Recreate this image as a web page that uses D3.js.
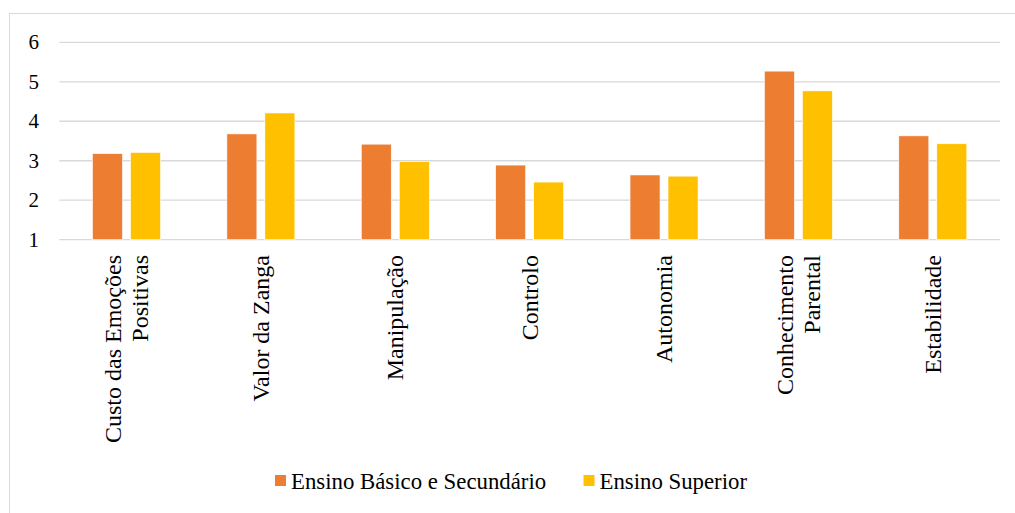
<!DOCTYPE html>
<html>
<head>
<meta charset="utf-8">
<script src="https://cdn.jsdelivr.net/npm/d3@7"></script>
<style>
  body { margin: 0; background: #fff; }
  svg { display: block; }
  text { font-family: "Liberation Serif", "Times New Roman", "DejaVu Serif", serif; }
</style>
</head>
<body>
<svg id="chart" width="1015" height="513"></svg>
<script>
const categories = ["Custo das Emoções Positivas", "Valor da Zanga", "Manipulação", "Controlo", "Autonomia", "Conhecimento Parental", "Estabilidade"];
const seriesNames = ["Ensino Básico e Secundário", "Ensino Superior"];
const basicoValues = [3.18, 3.68, 3.42, 2.89, 2.64, 5.27, 3.63];
const superiorValues = [3.21, 4.21, 2.98, 2.46, 2.61, 4.77, 3.43];
const yTicks = [1, 2, 3, 4, 5, 6];
const colors = ["#ED7D31", "#FFC000"];

const FONT = "'Liberation Serif', 'Times New Roman', serif";
const svg = d3.select("#chart").attr("font-family", FONT);
const W = 1015, H = 513;

// chart area border
svg.append("rect")
  .attr("x", 9.5).attr("y", 13.5)
  .attr("width", W + 10).attr("height", H + 10)
  .attr("fill", "#fff").attr("stroke", "#d9d9d9").attr("stroke-width", 1);

const plot = { left: 59.3, right: 1000, top: 42.3, bottom: 239.7 };

const x = d3.scaleBand().domain(categories).range([plot.left, plot.right]).paddingInner(0).paddingOuter(0);
const y = d3.scaleLinear().domain([1, 6]).range([plot.bottom, plot.top]);

// gridlines
svg.append("g").selectAll("line").data(yTicks).join("line")
  .attr("x1", plot.left).attr("x2", plot.right)
  .attr("y1", d => y(d)).attr("y2", d => y(d))
  .attr("stroke", "#d9d9d9").attr("stroke-width", 1.3);

// y tick labels
svg.append("g").selectAll("text").data(yTicks).join("text")
  .attr("x", 39).attr("y", d => y(d)).attr("dy", "0.34em")
  .attr("text-anchor", "end").attr("font-size", 21).attr("fill", "#000")
  .attr("font-family", FONT)
  .text(d => d);

// bars
const barW = 30, gap = 8;
const data = categories.map((c, i) => ({ c, vals: [basicoValues[i], superiorValues[i]] }));
const groups = svg.append("g").selectAll("g").data(data).join("g");
groups.selectAll("rect").data(d => d.vals.map((v, k) => ({ c: d.c, v, k }))).join("rect")
  .attr("x", d => x(d.c) + x.bandwidth() / 2 + (d.k === 0 ? -(gap / 2 + barW) : gap / 2))
  .attr("width", barW)
  .attr("y", d => y(d.v))
  .attr("height", d => y(1) - y(d.v))
  .attr("fill", d => colors[d.k])
  .attr("stroke", "#fff").attr("stroke-width", 0.6);

// category labels (rotated)
function splitLabel(s) {
  if (s.length <= 15) return [s];
  const idx = s.lastIndexOf(" ");
  return [s.slice(0, idx), s.slice(idx + 1)];
}
const lineH = 27;
const labels = svg.append("g").selectAll("g").data(categories).join("g")
  .attr("transform", d => `translate(${x(d) + x.bandwidth() / 2},255) rotate(-90)`);
labels.each(function(d) {
  const lines = splitLabel(d);
  const n = lines.length;
  d3.select(this).selectAll("text").data(lines).join("text")
    .attr("x", 0)
    .attr("y", (l, i) => (i - (n - 1) / 2) * lineH)
    .attr("dy", "0.33em")
    .attr("text-anchor", "end")
    .attr("font-size", 24).attr("fill", "#000")
    .attr("font-family", FONT)
    .text(l => l);
});

// legend
const legendItems = [
  { name: seriesNames[0], color: colors[0], sx: 275, tx: 291 },
  { name: seriesNames[1], color: colors[1], sx: 583.5, tx: 599.5 }
];
const lg = svg.append("g").selectAll("g").data(legendItems).join("g");
lg.append("rect").attr("x", d => d.sx).attr("y", 475).attr("width", 11).attr("height", 11)
  .attr("fill", d => d.color);
lg.append("text").attr("x", d => d.tx).attr("y", 489).attr("font-size", 22.8).attr("fill", "#000")
  .attr("font-family", FONT)
  .text(d => d.name);
</script>
</body>
</html>
